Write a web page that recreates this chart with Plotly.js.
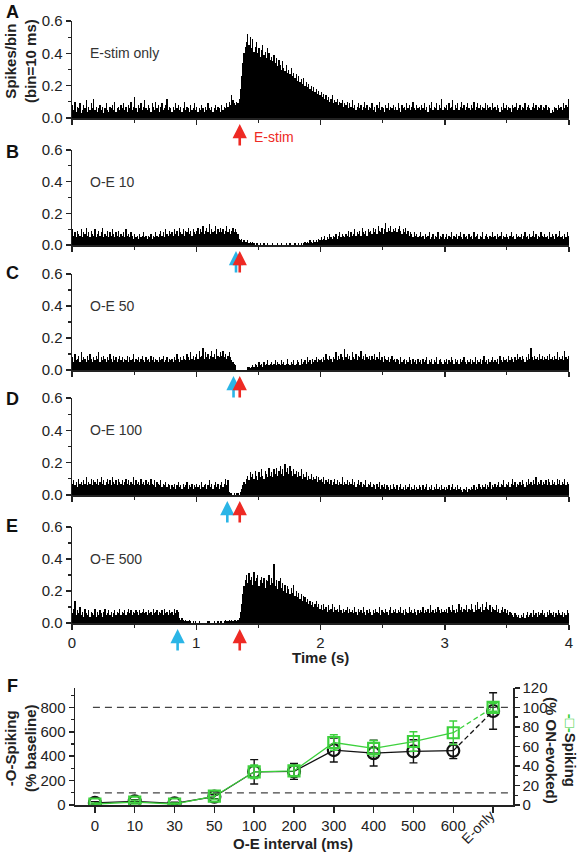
<!DOCTYPE html>
<html><head><meta charset="utf-8">
<script src="https://cdn.plot.ly/plotly-3.0.1.min.js"></script>
<style>html,body{margin:0;padding:0;background:#fff}#chart{width:582px;height:853px}</style>
</head><body><div id="chart"></div>
<script>
// ---- PSTH data: spikes per 10 ms bin, 0..4 s (400 bins each) ----
const histA=[
.08,.05,.10,.04,.07,.06,.09,.03,.05,.08,.06,.11,.04,.07,.05,.09,.06,.12,.05,.07,
.04,.06,.08,.05,.07,.03,.06,.09,.05,.04,.07,.06,.08,.05,.10,.04,.06,.07,.05,.08,
.06,.09,.05,.07,.04,.08,.06,.10,.05,.07,.13,.06,.04,.08,.06,.09,.05,.07,.11,.06,
.05,.08,.06,.04,.09,.07,.05,.10,.06,.08,.04,.07,.09,.05,.06,.08,.12,.05,.07,.06,
.04,.07,.05,.09,.06,.08,.05,.07,.04,.06,.10,.05,.07,.06,.04,.08,.05,.06,.09,.05,
.07,.04,.06,.05,.08,.06,.04,.07,.05,.09,.06,.05,.07,.04,.06,.08,.05,.07,.06,.04,
.08,.05,.07,.06,.09,.07,.10,.08,.14,.11,.09,.08,.10,.09,.12,.18,.26,.34,.40,.44,
.47,.52,.45,.50,.43,.49,.41,.44,.47,.40,.43,.38,.42,.45,.39,.41,.37,.43,.40,.36,
.38,.35,.39,.34,.37,.32,.36,.33,.30,.35,.31,.29,.33,.28,.30,.27,.31,.26,.28,.25,
.27,.23,.26,.22,.24,.21,.25,.20,.22,.19,.21,.18,.20,.17,.19,.16,.18,.15,.17,.14,
.16,.13,.15,.12,.14,.11,.13,.10,.12,.14,.09,.11,.10,.12,.08,.10,.09,.11,.07,.09,
.08,.10,.06,.09,.07,.11,.06,.08,.05,.07,.09,.06,.08,.05,.07,.10,.06,.08,.05,.07,
.06,.09,.05,.07,.04,.08,.06,.10,.05,.07,.06,.04,.08,.06,.09,.05,.07,.06,.08,.05,
.07,.05,.09,.06,.04,.08,.06,.07,.05,.09,.06,.08,.05,.07,.10,.06,.05,.08,.06,.07,
.05,.08,.06,.09,.05,.07,.04,.08,.06,.10,.05,.07,.06,.09,.05,.08,.06,.12,.05,.07,
.06,.08,.05,.09,.06,.07,.11,.05,.08,.06,.09,.05,.07,.10,.06,.08,.05,.07,.09,.06,
.05,.08,.06,.10,.05,.07,.09,.06,.08,.05,.07,.06,.09,.05,.08,.06,.07,.05,.09,.06,
.07,.05,.08,.06,.04,.07,.05,.09,.06,.08,.05,.07,.06,.04,.08,.06,.07,.09,.05,.06,
.08,.05,.07,.06,.09,.05,.07,.08,.06,.05,.07,.09,.06,.08,.05,.07,.06,.08,.05,.07,
.06,.08,.05,.07,.06,.03,.05,.04,.07,.06,.05,.08,.06,.07,.05,.09,.06,.08,.07,.12];
const histB=[
.10,.06,.08,.05,.09,.07,.06,.10,.05,.08,.07,.11,.06,.08,.05,.09,.07,.06,.10,.05,
.07,.09,.06,.08,.11,.05,.07,.06,.09,.05,.08,.06,.10,.07,.05,.08,.06,.09,.05,.07,
.06,.08,.05,.10,.06,.07,.05,.08,.06,.04,.07,.05,.06,.04,.07,.05,.06,.08,.05,.06,
.04,.06,.05,.07,.04,.06,.05,.08,.06,.05,.07,.09,.06,.08,.05,.10,.07,.06,.09,.07,
.08,.06,.10,.07,.09,.06,.11,.08,.07,.10,.06,.09,.08,.11,.07,.09,.06,.10,.08,.07,
.09,.11,.07,.10,.08,.12,.07,.09,.11,.08,.13,.07,.10,.08,.09,.12,.07,.10,.08,.11,
.08,.10,.07,.09,.12,.08,.10,.07,.09,.11,.08,.10,.08,.07,.04,.03,.04,.02,.03,.02,
.02,.03,.01,.02,.01,.02,.01,0,.01,.01,0,.01,0,0,.01,0,0,.01,0,0,
0,.01,0,0,0,.01,0,0,.01,0,0,0,.01,0,0,.01,0,0,0,.01,
0,0,.01,0,.01,0,.01,.02,.01,.02,.01,.03,.02,.01,.03,.02,.03,.02,.04,.03,
.05,.03,.04,.06,.03,.05,.04,.07,.05,.04,.06,.05,.07,.04,.06,.08,.05,.07,.06,.05,
.07,.06,.09,.05,.08,.06,.07,.10,.06,.08,.07,.09,.06,.11,.08,.07,.09,.06,.10,.08,
.09,.07,.11,.08,.10,.07,.12,.09,.08,.11,.07,.10,.14,.08,.11,.09,.12,.08,.10,.09,
.11,.08,.10,.12,.09,.07,.10,.08,.11,.07,.09,.06,.08,.07,.05,.08,.06,.07,.05,.06,
.08,.05,.06,.04,.07,.05,.06,.08,.04,.05,.07,.04,.06,.05,.08,.04,.06,.05,.07,.04,
.05,.07,.04,.06,.05,.08,.04,.06,.05,.07,.04,.06,.08,.05,.04,.07,.05,.06,.04,.07,
.05,.06,.04,.08,.05,.06,.07,.04,.06,.05,.08,.04,.06,.07,.05,.04,.06,.05,.08,.05,
.06,.04,.07,.05,.06,.08,.04,.06,.05,.07,.05,.04,.06,.08,.05,.06,.04,.07,.05,.06,
.05,.07,.04,.06,.08,.05,.06,.04,.07,.05,.06,.09,.05,.07,.04,.06,.05,.08,.06,.05,
.07,.05,.06,.04,.08,.05,.07,.06,.04,.07,.05,.06,.09,.05,.06,.04,.07,.05,.08,.06];
const histC=[
.08,.05,.10,.06,.07,.09,.05,.11,.06,.08,.07,.05,.09,.06,.10,.07,.05,.08,.06,.09,
.07,.11,.05,.08,.06,.09,.07,.05,.08,.06,.10,.07,.05,.09,.06,.08,.05,.07,.09,.06,
.08,.05,.07,.06,.09,.05,.08,.06,.07,.10,.05,.07,.06,.08,.05,.07,.09,.06,.05,.08,
.06,.07,.05,.09,.06,.08,.05,.07,.06,.05,.08,.06,.07,.09,.05,.06,.08,.05,.07,.06,
.07,.05,.08,.06,.10,.07,.05,.08,.06,.09,.07,.06,.10,.08,.06,.11,.07,.09,.06,.08,
.10,.07,.12,.08,.09,.14,.07,.11,.08,.10,.07,.09,.12,.08,.10,.07,.13,.09,.08,.11,
.09,.12,.08,.10,.07,.09,.11,.08,.06,.05,.04,.03,0,0,0,0,0,0,0,0,
0,.02,.02,.01,.02,.03,.02,.04,.03,.02,.05,.03,.04,.02,.05,.03,.04,.06,.03,.04,
.05,.03,.04,.06,.03,.05,.04,.03,.06,.04,.05,.03,.04,.07,.04,.03,.05,.04,.06,.03,
.04,.06,.05,.03,.07,.04,.05,.06,.04,.08,.05,.06,.04,.07,.05,.06,.08,.05,.07,.06,
.07,.05,.08,.06,.10,.07,.06,.09,.07,.05,.08,.07,.11,.06,.09,.07,.10,.08,.06,.13,
.08,.10,.07,.09,.06,.11,.08,.07,.10,.06,.09,.08,.12,.07,.09,.06,.10,.08,.07,.09,
.06,.09,.07,.10,.06,.08,.07,.11,.06,.08,.05,.09,.07,.06,.08,.05,.07,.09,.06,.07,
.05,.07,.06,.04,.08,.05,.06,.07,.04,.06,.05,.08,.06,.04,.07,.05,.06,.04,.07,.05,
.06,.04,.07,.05,.06,.08,.04,.06,.05,.07,.04,.06,.05,.08,.04,.06,.07,.05,.04,.06,
.05,.07,.04,.06,.05,.08,.06,.04,.07,.05,.06,.04,.07,.05,.06,.08,.05,.04,.06,.05,
.07,.04,.06,.05,.08,.04,.06,.05,.07,.04,.06,.09,.05,.06,.04,.07,.05,.06,.08,.05,
.06,.05,.07,.04,.09,.06,.05,.08,.06,.07,.05,.09,.06,.08,.07,.05,.08,.06,.10,.07,
.08,.06,.09,.07,.05,.08,.06,.10,.07,.14,.08,.06,.09,.07,.08,.06,.10,.07,.09,.06,
.08,.07,.09,.06,.10,.07,.08,.06,.09,.07,.11,.06,.08,.07,.09,.06,.12,.08,.07,.09];
const histD=[
.07,.09,.06,.08,.05,.10,.07,.08,.06,.09,.07,.11,.06,.08,.07,.10,.06,.09,.08,.07,
.10,.06,.08,.11,.07,.09,.06,.08,.10,.07,.09,.06,.11,.08,.07,.09,.06,.10,.08,.07,
.09,.06,.08,.10,.07,.09,.06,.08,.07,.11,.06,.09,.07,.08,.06,.10,.07,.08,.06,.09,
.07,.08,.06,.10,.07,.06,.09,.05,.08,.07,.06,.09,.05,.07,.06,.08,.05,.07,.06,.04,
.06,.05,.07,.04,.06,.08,.05,.06,.04,.07,.05,.06,.08,.04,.06,.05,.07,.04,.06,.05,
.07,.05,.06,.04,.08,.05,.06,.07,.04,.06,.09,.05,.07,.04,.06,.08,.05,.07,.04,.06,
.08,.05,.07,.10,.06,.09,.02,.01,.01,0,.01,0,.01,.01,0,.02,.04,.06,.08,.07,
.10,.12,.09,.14,.11,.13,.10,.15,.12,.09,.14,.11,.16,.12,.10,.15,.13,.11,.17,.12,
.14,.11,.16,.13,.17,.12,.15,.18,.13,.16,.12,.19,.14,.17,.13,.18,.15,.12,.16,.13,
.15,.11,.14,.12,.16,.10,.13,.11,.14,.09,.12,.10,.13,.09,.11,.10,.12,.08,.11,.09,
.10,.08,.11,.07,.09,.08,.10,.07,.09,.06,.08,.10,.07,.09,.06,.08,.07,.11,.06,.08,
.07,.09,.06,.08,.07,.10,.06,.08,.05,.07,.09,.06,.08,.05,.07,.06,.09,.05,.07,.06,
.08,.05,.07,.06,.04,.07,.05,.08,.04,.06,.05,.07,.04,.06,.05,.03,.06,.04,.07,.05,
.04,.06,.03,.05,.07,.04,.05,.03,.06,.04,.05,.07,.03,.05,.04,.06,.03,.05,.04,.06,
.05,.03,.06,.04,.05,.07,.03,.05,.04,.06,.03,.05,.04,.07,.04,.05,.03,.06,.04,.05,
.03,.05,.04,.06,.03,.05,.07,.04,.05,.03,.06,.04,.05,.03,.02,.04,.03,.05,.02,.04,
.03,.05,.04,.06,.03,.05,.04,.07,.05,.04,.06,.05,.07,.04,.06,.05,.08,.04,.06,.05,
.07,.05,.06,.08,.05,.07,.06,.09,.05,.07,.06,.08,.05,.07,.10,.06,.08,.05,.07,.06,
.08,.06,.09,.07,.05,.08,.06,.10,.07,.08,.06,.09,.07,.11,.06,.08,.07,.09,.06,.08,
.07,.09,.06,.10,.08,.06,.09,.07,.08,.06,.10,.07,.09,.06,.08,.07,.10,.06,.08,.07];
const histE=[
.06,.09,.14,.05,.08,.06,.10,.05,.07,.04,.09,.06,.05,.08,.04,.07,.06,.05,.09,.04,
.07,.05,.08,.06,.04,.07,.09,.05,.06,.08,.05,.07,.04,.06,.08,.05,.07,.06,.09,.05,
.07,.06,.08,.05,.07,.09,.06,.08,.05,.07,.06,.08,.07,.05,.08,.06,.07,.09,.06,.07,
.05,.08,.06,.07,.05,.09,.06,.07,.08,.05,.07,.06,.08,.05,.09,.06,.07,.05,.08,.06,
.07,.05,.09,.06,.08,.07,.03,.02,.03,.02,.01,.02,.01,.01,.02,.01,0,.01,0,.01,
0,0,.01,0,0,0,0,0,0,.01,.01,0,0,0,.01,0,0,.01,0,.01,
.01,0,.01,.02,.01,.01,.02,.01,.02,.01,.02,.02,.01,.02,.03,.07,.12,.18,.23,.27,
.30,.25,.31,.27,.29,.24,.32,.26,.28,.30,.23,.27,.29,.25,.28,.22,.27,.26,.30,.24,
.28,.25,.37,.23,.27,.21,.26,.28,.22,.25,.20,.24,.19,.23,.21,.18,.22,.19,.24,.17,
.20,.16,.19,.15,.18,.14,.17,.16,.13,.15,.12,.14,.11,.13,.10,.12,.14,.10,.12,.09,
.11,.08,.12,.09,.10,.07,.11,.08,.09,.12,.07,.10,.08,.09,.07,.11,.08,.06,.09,.07,
.08,.10,.06,.09,.07,.08,.06,.10,.07,.05,.09,.07,.08,.06,.10,.07,.05,.08,.06,.09,
.07,.05,.08,.06,.09,.07,.06,.10,.05,.08,.07,.06,.09,.07,.05,.08,.10,.06,.08,.07,
.09,.06,.08,.07,.10,.06,.08,.05,.09,.07,.06,.10,.07,.08,.06,.09,.07,.05,.08,.06,
.08,.07,.10,.06,.08,.07,.09,.06,.11,.07,.08,.06,.09,.07,.10,.08,.06,.09,.07,.08,
.07,.09,.06,.10,.08,.07,.11,.08,.06,.09,.07,.12,.08,.10,.07,.09,.08,.11,.07,.09,
.08,.12,.09,.07,.11,.08,.13,.09,.10,.07,.12,.08,.10,.13,.09,.08,.11,.07,.10,.09,
.08,.11,.07,.09,.06,.08,.10,.07,.09,.06,.08,.05,.07,.06,.05,.04,.06,.05,.04,.05,
.03,.05,.04,.06,.03,.05,.07,.04,.05,.06,.04,.08,.05,.06,.04,.07,.05,.06,.08,.05,
.06,.04,.07,.05,.08,.06,.05,.07,.04,.06,.05,.08,.06,.05,.07,.04,.06,.05,.08,.06];
const panelNames=['E-stim only','O-E 10','O-E 50','O-E 100','O-E 500'];
const eStimTime=1.35;
const optoTimes=[null,1.32,1.30,1.25,0.85];
const timeTicks=[0,1,2,3,4];

// ---- Panel F data ----
const intervals=['0','10','30','50','100','200','300','400','500','600','E-only'];
const spikingBaseline=[18,30,14,68,272,275,450,425,440,445,770];
const spikingBaselineErr=[10,14,8,16,100,65,98,105,95,65,150];
const spikingOnEvoked=[1,3,1,9,34,35,64,58,65,74,100];
const spikingOnEvokedErr=[1,2,1,3,7,5,8,8,10,12,4];
const refLevels=[800,100];

// ---- layout helpers ----
const W=582,H=853;
const fx=p=>p/W, fy=p=>1-p/H;
const pxZero=[118,245,370,495,623], pxTop=[21,150,274,398,527];
const INK='#222', RED='#ee2a24', BLUE='#2bb5e6', GREEN='#3dd13d';
const FONT='Liberation Sans, Arial, sans-serif';

const traces=[], annotations=[], shapes=[];
const layout={width:W,height:H,margin:{l:0,r:0,t:0,b:0},paper_bgcolor:'#fff',plot_bgcolor:'rgba(0,0,0,0)',
  showlegend:false,bargap:0,font:{family:FONT,size:14,color:INK}};

const hists=[histA,histB,histC,histD,histE];
hists.forEach((h,i)=>{
  const s=i===0?'':String(i+1);
  traces.push({type:'bar',x0:0.005,dx:0.01,y:h,width:0.01,xaxis:'x'+s,yaxis:'y'+s,
    marker:{color:'#000',line:{width:0}},hoverinfo:'skip'});
  layout['xaxis'+s]={domain:[fx(72),fx(569)],anchor:'y'+s,range:[0,4],tickvals:timeTicks,
    showticklabels:i===4,tickfont:{size:15,color:INK},showline:true,linecolor:INK,linewidth:1.5,
    ticks:'outside',ticklen:5,tickwidth:1.5,tickcolor:INK,showgrid:false,zeroline:false,
    minor:{dtick:0.5,ticks:'outside',ticklen:3,tickwidth:1.2,tickcolor:INK,showgrid:false}};
  layout['yaxis'+s]={domain:[fy(pxZero[i]),fy(pxTop[i])],anchor:'x'+s,range:[0,0.6],dtick:0.2,
    tickformat:'.1f',tickfont:{size:15,color:INK},showline:true,linecolor:INK,linewidth:1.5,
    ticks:'outside',ticklen:5,tickwidth:1.5,tickcolor:INK,showgrid:false,zeroline:false,
    minor:{dtick:0.1,ticks:'outside',ticklen:3,tickwidth:1.2,tickcolor:INK,showgrid:false}};
  annotations.push({xref:'x'+s,yref:'y'+s,x:0.13,y:0.4,text:panelNames[i],showarrow:false,
    xanchor:'left',yanchor:'middle',font:{size:14,color:'#333'}});
  const arrow=(t,col)=>({xref:'x'+s,yref:'paper',x:t,y:fy(pxZero[i]+6),ax:0,ay:23,axref:'pixel',ayref:'pixel',
    text:'',showarrow:true,arrowhead:2,arrowsize:1.1,arrowwidth:2.6,arrowcolor:col});
  if(optoTimes[i]!==null) annotations.push(arrow(optoTimes[i],BLUE));
  annotations.push(arrow(eStimTime,RED));
});
annotations.push({xref:'paper',yref:'paper',x:fx(252),y:fy(137),text:'E-stim',showarrow:false,
  xanchor:'left',yanchor:'middle',font:{size:14,color:RED}});
annotations.push({xref:'paper',yref:'paper',x:fx(21),y:fy(61),text:'<b>Spikes/bin<br>(bin=10 ms)</b>',
  textangle:-90,showarrow:false,xanchor:'center',yanchor:'middle',font:{size:15,color:INK}});
annotations.push({xref:'paper',yref:'paper',x:fx(320),y:fy(657),text:'<b>Time (s)</b>',showarrow:false,
  xanchor:'center',yanchor:'middle',font:{size:15,color:INK}});

// ---- Panel F ----
const idx=intervals.map((_,i)=>i);
const last=intervals.length-1;
layout.xaxis6={domain:[fx(75),fx(513)],anchor:'y6',range:[-0.5,10.5],tickvals:idx,
  ticktext:intervals.map((t,i)=>i===last?'':t),tickfont:{size:15,color:INK},showline:true,linecolor:INK,
  linewidth:1.8,ticks:'outside',ticklen:6,tickwidth:1.5,tickcolor:INK,showgrid:false,zeroline:false};
layout.yaxis6={domain:[fy(805),fy(687.8)],anchor:'x6',range:[0,960],tickvals:[0,200,400,600,800],
  tickfont:{size:15,color:INK},showline:true,linecolor:INK,linewidth:1.5,ticks:'outside',ticklen:5,
  tickwidth:1.5,tickcolor:INK,showgrid:false,zeroline:false,
  minor:{tickvals:[100,300,500,700,900],ticks:'outside',ticklen:3,tickwidth:1.2,tickcolor:INK,showgrid:false}};
layout.yaxis7={domain:[fy(805),fy(687.8)],anchor:'x6',overlaying:'y6',side:'right',range:[0,120],dtick:20,
  tickfont:{size:15,color:INK},showline:true,linecolor:INK,linewidth:1.5,ticks:'outside',ticklen:5,
  tickwidth:1.5,tickcolor:INK,showgrid:false,zeroline:false,
  minor:{dtick:10,ticks:'outside',ticklen:3,tickwidth:1.2,tickcolor:INK,showgrid:false}};

refLevels.forEach(v=>shapes.push({type:'line',xref:'x6',yref:'y6',x0:-0.05,x1:10.5,y0:v,y1:v,
  line:{color:'#444',width:1.2,dash:'7px,5px'}}));

// black (% baseline)
traces.push({x:idx.slice(0,last),y:spikingBaseline.slice(0,last),xaxis:'x6',yaxis:'y6',mode:'lines',
  line:{color:'#111',width:1.3},hoverinfo:'skip'});
traces.push({x:idx.slice(last-1),y:spikingBaseline.slice(last-1),xaxis:'x6',yaxis:'y6',mode:'lines',
  line:{color:'#111',width:1.3,dash:'5px,3px'},hoverinfo:'skip'});
traces.push({x:idx,y:spikingBaseline,xaxis:'x6',yaxis:'y6',mode:'markers',
  marker:{symbol:'circle-open',size:12,color:'#111',line:{width:2.2,color:'#111'}},
  error_y:{type:'data',array:spikingBaselineErr,color:'#111',thickness:1.4,width:4},hoverinfo:'skip'});
// green (% ON-evoked)
traces.push({x:idx.slice(0,last),y:spikingOnEvoked.slice(0,last),xaxis:'x6',yaxis:'y7',mode:'lines',
  line:{color:GREEN,width:1.3},hoverinfo:'skip'});
traces.push({x:idx.slice(last-1),y:spikingOnEvoked.slice(last-1),xaxis:'x6',yaxis:'y7',mode:'lines',
  line:{color:GREEN,width:1.3,dash:'5px,3px'},hoverinfo:'skip'});
traces.push({x:idx,y:spikingOnEvoked,xaxis:'x6',yaxis:'y7',mode:'markers',
  marker:{symbol:'square-open',size:11,color:GREEN,line:{width:2.2,color:GREEN}},
  error_y:{type:'data',array:spikingOnEvokedErr,color:GREEN,thickness:1.4,width:4},hoverinfo:'skip'});

annotations.push({xref:'x6',yref:'paper',x:9.62,y:fy(827),text:intervals[last],textangle:-45,showarrow:false,
  xanchor:'center',yanchor:'middle',font:{size:14,color:INK}});
annotations.push({xref:'paper',yref:'paper',x:fx(293),y:fy(843),text:'<b>O-E interval (ms)</b>',showarrow:false,
  xanchor:'center',yanchor:'middle',font:{size:15,color:INK}});
annotations.push({xref:'paper',yref:'paper',x:fx(20),y:fy(748),text:'<b>-O-Spiking<br>(% baseline)</b>',
  textangle:-90,showarrow:false,xanchor:'center',yanchor:'middle',font:{size:15,color:INK}});
annotations.push({xref:'paper',yref:'paper',x:fx(561),y:fy(750),
  text:'<b><span style="color:'+GREEN+'">-□-</span>Spiking<br>(% ON-evoked)</b>',
  textangle:90,showarrow:false,xanchor:'center',yanchor:'middle',font:{size:15,color:INK}});

// panel letters
const letters=['A','B','C','D','E','F'], letterY=[12,152,273,399,526,686];
letters.forEach((L,i)=>annotations.push({xref:'paper',yref:'paper',x:fx(12),y:fy(letterY[i]),
  text:'<b>'+L+'</b>',showarrow:false,xanchor:'center',yanchor:'middle',font:{size:18,color:'#111'}}));

layout.annotations=annotations;
layout.shapes=shapes;
Plotly.newPlot('chart',traces,layout,{staticPlot:true,displayModeBar:false});
</script></body></html>
